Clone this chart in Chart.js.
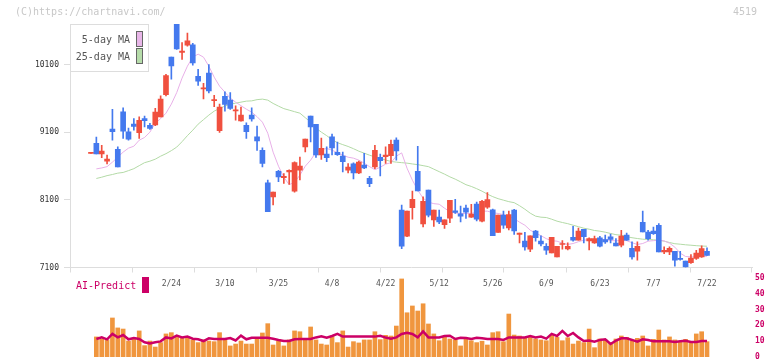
<!DOCTYPE html>
<html>
<head>
<meta charset="utf-8">
<script src="https://cdn.jsdelivr.net/npm/chart.js@4.4.1/dist/chart.umd.min.js"></script>
<style>
  body { margin: 0; background: #fff; }
  #wrap { position: relative; width: 772px; height: 361px; overflow: hidden; font-family: "DejaVu Sans Mono", monospace; }
  canvas { position: absolute; left: 0; }
  #mainChart { top: 0; }
  #volChart { top: 270px; }
  .txt { position: absolute; font-size: 10px; line-height: 12px; white-space: pre; z-index: 3; }
  .box { position: absolute; z-index: 2; box-sizing: border-box; }
</style>
</head>
<body>
<div id="wrap">
  <canvas id="mainChart" width="772" height="300"></canvas>
  <canvas id="volChart" width="772" height="110"></canvas>
  <div class="txt" style="left:15px;top:6px;color:#c8c8c8;">(C)https://chartnavi.com/</div>
  <div class="txt" style="right:15px;top:6px;color:#c8c8c8;">4519</div>
  <div class="box" style="left:70px;top:24px;width:79px;height:48px;border:1px solid #ddd;background:#fff;"></div>
  <div class="txt" style="left:70px;width:60px;text-align:right;top:34px;color:#555;">5-day MA</div>
  <div class="box" style="left:136px;top:31px;width:7px;height:16px;border:1px solid #666;background:#e8b6e8;z-index:3;"></div>
  <div class="txt" style="left:70px;width:60px;text-align:right;top:51px;color:#555;">25-day MA</div>
  <div class="box" style="left:136px;top:48px;width:7px;height:16px;border:1px solid #666;background:#b6dcaa;z-index:3;"></div>
  <div class="txt" style="left:76px;top:280px;color:#cc0066;">AI-Predict</div>
  <div class="box" style="left:142px;top:277px;width:7px;height:16px;background:#cc0066;"></div>
</div>
<script>
const opens = [8790,8940,8780,8675,9150,8850,9405,9110,9225,9095,
  9305,9205,9210,9330,9660,10215,10700,10285,10390,10395,
  9930,9745,9980,9570,9125,9635,9580,9420,9270,9205,
  9355,9035,8835,8355,8145,8525,8430,8515,8230,8540,
  8885,9340,9220,8765,8780,9035,8805,8750,8540,8635,
  8500,8615,8420,8590,8730,8740,8755,8985,7950,7565,
  7985,8525,7745,8245,7805,7845,7735,7830,7940,7895,
  7980,7845,8040,7785,7995,7955,7620,7875,7685,7950,
  7590,7490,7370,7640,7490,7415,7315,7255,7440,7375,
  7545,7505,7665,7495,7465,7540,7515,7555,7460,7430,
  7580,7385,7340,7770,7625,7640,7725,7330,7330,7340,
  7235,7195,7170,7235,7255,7340];
const closes = [8800,8780,8825,8705,9110,8590,9120,9000,9190,9280,
  9275,9160,9400,9595,9940,10085,10335,10305,10455,10130,
  9860,9755,9715,9580,9475,9515,9455,9435,9355,9110,
  9300,8975,8640,7925,8215,8440,8450,8540,8655,8600,
  9000,9180,8765,8865,8725,8870,8770,8665,8585,8500,
  8660,8575,8340,8835,8680,8765,8925,8825,7415,7935,
  8110,8235,8080,7875,7950,7775,7805,8095,7915,7860,
  7920,7890,7815,8080,8105,7570,7875,7725,7885,7640,
  7610,7405,7570,7540,7450,7355,7545,7415,7450,7415,
  7505,7640,7555,7530,7530,7415,7480,7515,7420,7565,
  7505,7255,7415,7625,7525,7600,7330,7355,7385,7210,
  7220,7110,7240,7315,7380,7280];
const highs = [8800,9030,8910,8765,9440,8885,9465,9165,9305,9330,
  9340,9235,9455,9640,9960,10215,10700,10430,10570,10420,
  10035,9825,10105,9650,9520,9700,9690,9495,9475,9240,
  9465,9195,8870,8395,8215,8540,8490,8545,8665,8735,
  9000,9340,9220,9015,8885,9075,8955,8810,8640,8650,
  8675,8790,8450,8910,8780,8885,8985,9020,8025,7935,
  8230,8895,8145,8245,7950,7950,7805,8095,8110,8010,
  8025,8035,8070,8095,8210,7965,7875,7935,7935,7960,
  7610,7620,7570,7650,7570,7455,7545,7415,7500,7465,
  7710,7685,7665,7540,7565,7560,7580,7595,7530,7650,
  7610,7480,7480,7935,7650,7700,7750,7405,7405,7340,
  7340,7195,7290,7355,7420,7390];
const lows = [8790,8780,8725,8635,8985,8590,9010,8985,9135,9010,
  9180,9145,9200,9330,9640,9890,10330,10180,10375,10095,
  9795,9595,9685,9480,9100,9415,9440,9280,9265,9010,
  9265,8835,8590,7925,8025,8370,8345,8330,8215,8395,
  8810,8960,8730,8700,8665,8765,8760,8515,8500,8410,
  8490,8565,8295,8565,8455,8640,8640,8690,7380,7555,
  7815,8235,7700,7850,7710,7750,7680,7765,7900,7775,
  7825,7840,7790,7775,7975,7570,7620,7680,7655,7590,
  7465,7355,7335,7490,7420,7295,7315,7255,7370,7360,
  7490,7505,7465,7360,7455,7405,7455,7465,7420,7405,
  7500,7225,7210,7625,7505,7590,7330,7305,7290,7120,
  7210,7100,7160,7220,7250,7280];
const ma5 = [null,8560,8574,8593,8660,8733,8808,8867,8896,8985,
  9025,9104,9237,9304,9385,9519,9689,9904,10081,10214,
  10259,10214,10081,9918,9785,9696,9607,9548,9496,9444,
  9400,9333,9252,9089,8808,8600,8437,8326,8363,8467,
  8600,8689,8808,8845,8862,8837,8800,8763,8733,8719,
  8689,8645,8593,8548,8585,8630,8652,8748,8797,8570,
  8393,8245,8126,8067,8045,8037,7978,7926,7907,7900,
  7900,7900,7919,7934,7934,7912,7900,7882,7860,7823,
  7771,7726,7652,7608,7571,7527,7497,7490,7460,7441,
  7455,7482,7504,7512,7515,7515,7512,7500,7494,7502,
  7497,7467,7441,7455,7490,7497,7504,7494,7460,7401,
  7312,7263,7257,7257,7263,7267];
const ma25 = [null,8418,8437,8460,8477,8497,8507,8534,8563,8608,
  8652,8674,8704,8748,8785,8830,8882,8963,9052,9133,
  9222,9289,9356,9415,9455,9489,9518,9533,9548,9563,
  9567,9585,9593,9578,9529,9489,9452,9430,9407,9385,
  9318,9252,9163,9104,9052,8993,8948,8919,8892,8859,
  8822,8793,8763,8737,8714,8692,8670,8660,8652,8645,
  8633,8623,8608,8593,8556,8519,8482,8442,8408,8368,
  8326,8300,8267,8230,8186,8149,8119,8097,8075,8060,
  8015,7963,7904,7860,7845,7840,7815,7786,7766,7749,
  7726,7704,7682,7667,7648,7638,7623,7604,7586,7578,
  7556,7541,7529,7519,7515,7510,7504,7490,7470,7452,
  7445,7436,7430,7423,7418,7415];
const volume = [null,12.7,11.4,10.8,24.7,18.4,17.7,10.1,11.8,16.5,
  7.2,10.1,6.3,9.1,14.6,15.4,12.4,11.8,11.8,10.8,
  9.1,10.8,10.1,9.7,15.4,10.8,7.0,8.2,10.1,8.2,
  8.2,11.4,15.2,21.1,7.6,10.1,7.0,10.8,16.5,16.0,
  10.8,19.0,10.8,8.2,7.6,12.9,9.1,16.5,6.3,9.7,
  8.9,10.8,10.8,16.0,11.0,13.7,13.3,19.6,49.4,28.0,
  32.3,29.1,33.7,20.9,14.6,10.3,12.9,11.4,11.0,7.0,
  11.4,10.3,9.1,10.0,7.6,15.4,16.0,9.7,27.2,13.9,
  13.3,11.8,12.9,11.4,10.8,10.3,13.9,12.4,10.3,12.2,
  8.2,10.1,9.1,17.7,5.9,11.4,10.8,9.1,11.4,13.3,
  12.4,10.1,11.8,13.3,7.0,11.2,17.1,10.8,12.7,10.8,
  9.7,11.2,9.7,14.6,16.0,9.7];
const aiPredict = [null,11.4,12.4,11.2,14.6,12.4,13.9,11.2,12.0,11.4,
  9.3,8.6,9.3,9.9,12.4,11.8,13.5,12.4,12.9,11.6,
  11.2,10.1,11.8,11.4,11.4,11.4,12.0,10.5,13.5,11.2,
  12.2,12.2,12.2,12.2,11.6,10.8,10.1,10.1,11.2,11.4,
  11.4,11.4,12.4,13.1,12.2,13.3,14.6,12.9,12.9,12.9,
  12.9,12.9,12.9,12.9,13.4,12.3,11.6,12.4,14.6,15.4,
  14.6,12.4,16.2,12.4,12.4,12.4,13.3,13.5,11.4,12.2,
  12.0,11.4,12.2,11.8,11.4,11.4,11.4,10.8,12.4,12.4,
  12.4,12.4,13.3,12.4,12.9,11.6,14.6,13.3,16.5,13.3,
  15.2,12.4,10.1,10.5,9.7,10.8,11.2,8.2,10.3,11.8,
  11.8,10.8,9.7,11.2,10.8,9.9,9.9,9.9,9.9,9.5,
  9.9,10.3,9.5,9.5,10.1,10.1];
const dateLabels = ["2/24","3/10","3/25","4/8","4/22","5/12","5/26","6/9","6/23","7/7","7/22"];
const dateIndex = [15,25,35,45,55,65,75,85,95,105,115];
const priceTicks = [7100, 8100, 9100, 10100];
const volTicks = [0, 10, 20, 30, 40, 50];

const RED = "#f0503f", BLUE = "#4479ee";
const xMin = -3.92, xMax = 123.4;
const mono = "'DejaVu Sans Mono', monospace";

const idx = opens.map((_, i) => i);
const candleColors = idx.map((i) => (closes[i] >= opens[i] ? RED : BLUE));
const pts = (arr) => idx.map((i) => ({ x: i, y: arr[i] }));

new Chart(document.getElementById("mainChart"), {
  type: "bar",
  data: {
    datasets: [
      {
        label: "body",
        data: idx.map((i) => ({ x: i, y: [opens[i], closes[i]] })),
        backgroundColor: candleColors,
        barThickness: 5,
        minBarLength: 1,
        grouped: false,
        order: 1,
      },
      {
        label: "wick",
        data: idx.map((i) => ({ x: i, y: [lows[i], highs[i]] })),
        backgroundColor: candleColors,
        barThickness: 1,
        grouped: false,
        order: 2,
      },
      {
        type: "line",
        label: "5-day MA",
        data: pts(ma5),
        borderColor: "#e8b0e8",
        borderWidth: 1,
        pointRadius: 0,
        order: 3,
      },
      {
        type: "line",
        label: "25-day MA",
        data: pts(ma25),
        borderColor: "#b3daa6",
        borderWidth: 1,
        pointRadius: 0,
        order: 4,
      },
    ],
  },
  options: {
    responsive: false,
    animation: false,
    layout: { padding: { top: 24, right: 20, left: 0, bottom: 0 } },
    plugins: { legend: { display: false }, tooltip: { enabled: false } },
    scales: {
      x: {
        type: "linear",
        min: xMin,
        max: xMax,
        offset: false,
        weight: 0,
        afterBuildTicks: (s) => {
          s.ticks = Array.from({ length: 12 }, (_, k) => ({ value: xMin + (k * (xMax - xMin)) / 11 }));
        },
        afterFit: (s) => { s.height = 10; },
        ticks: { display: false },
        grid: { offset: false, drawOnChartArea: false, tickLength: 5, color: "#dddddd" },
        border: { color: "#dddddd" },
      },
      x2: {
        type: "linear",
        position: "bottom",
        min: xMin,
        max: xMax,
        offset: false,
        weight: 1,
        afterBuildTicks: (s) => {
          s.ticks = dateIndex.map((v) => ({ value: v }));
        },
        afterFit: (s) => { s.height = 22.5; },
        ticks: {
          autoSkip: false,
          maxRotation: 0,
          padding: 2,
          color: "#555",
          font: { family: mono, size: 8 },
          callback: (v, i) => dateLabels[i],
        },
        grid: { display: false, drawTicks: false, offset: false },
        border: { display: false },
      },
      y: {
        type: "linear",
        min: 7100,
        max: 10705,
        afterBuildTicks: (s) => {
          s.ticks = priceTicks.map((v) => ({ value: v }));
        },
        afterFit: (s) => { s.width = 70; },
        ticks: { color: "#333", padding: 5, font: { family: mono, size: 8 }, callback: (v) => String(v) },
        grid: { drawOnChartArea: false, tickLength: 6, color: "#dddddd" },
        border: { color: "#dddddd" },
      },
    },
  },
});

new Chart(document.getElementById("volChart"), {
  type: "bar",
  data: {
    datasets: [
      {
        type: "line",
        label: "AI-Predict",
        data: pts(aiPredict),
        borderColor: "#cc0066",
        borderWidth: 2.5,
        pointRadius: 0,
        order: 0,
      },
      {
        label: "volume",
        data: pts(volume),
        backgroundColor: "#f0963e",
        barThickness: 4,
        order: 1,
      },
    ],
  },
  options: {
    responsive: false,
    animation: false,
    layout: { padding: { top: 8, right: 0, left: 70, bottom: 23 } },
    plugins: { legend: { display: false }, tooltip: { enabled: false } },
    scales: {
      x: { type: "linear", min: xMin, max: xMax, offset: false, display: false, grid: { offset: false } },
      y: {
        type: "linear",
        position: "right",
        min: 0,
        max: 50,
        afterBuildTicks: (s) => {
          s.ticks = volTicks.map((v) => ({ value: v }));
        },
        afterFit: (s) => { s.width = 20; },
        ticks: { color: "#cc0066", padding: 3, font: { family: mono, size: 8, weight: "bold" } },
        grid: { display: false, drawTicks: false },
        border: { display: false },
      },
    },
  },
});
</script>
</body>
</html>
